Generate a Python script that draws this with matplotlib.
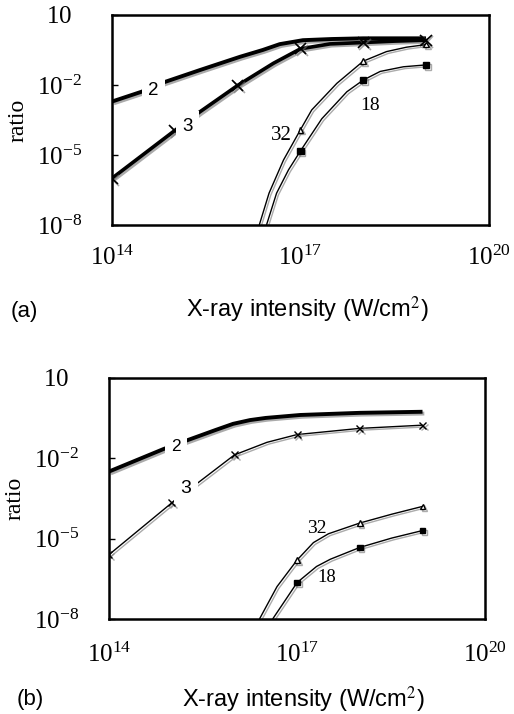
"""
Ionisation ratio versus X-ray intensity, panels (a) and (b)
"""

import numpy as np
import matplotlib
matplotlib.use("Agg")
import matplotlib.pyplot as plt
import matplotlib.patheffects as pe

plt.rcParams["mathtext.fontset"] = "stix"

SERIF = "Liberation Serif"
SANS = "Liberation Sans"

# values are log10 of intensity (W/cm2) and log10 of ratio
# panel (a)
a2_x = [14, 14.47, 14.82, 15.4, 16.04, 16.4, 16.67, 17.04, 17.5, 18, 19]
a2_y = [-2.71, -2.29, -1.89, -1.36, -0.79, -0.50, -0.25, -0.08, -0.03, 0.0, 0.0]
a3_x = [14, 15, 15.4, 16, 16.3, 16.57, 17, 17.47, 18, 18.5, 19]
a3_y = [-6.0, -3.95, -3.15, -2.02, -1.52, -1.07, -0.45, -0.24, -0.18, -0.12, -0.08]
a32_x = [16.345, 16.5, 16.73, 17, 17.18, 17.58, 18, 18.37, 18.69, 19]
a32_y = [-8.0, -6.64, -5.22, -3.92, -3.07, -1.93, -0.98, -0.57, -0.38, -0.27]
a18_x = [16.46, 16.62, 16.81, 17, 17.34, 17.74, 18, 18.27, 18.64, 19]
a18_y = [-8.0, -6.64, -5.64, -4.83, -3.45, -2.29, -1.79, -1.42, -1.22, -1.14]

# panel (b)
b2_x = [14, 14.87, 15.24, 15.7, 15.98, 16.25, 16.5, 17.05, 18, 19]
b2_y = [-2.5, -1.66, -1.34, -0.95, -0.72, -0.58, -0.50, -0.39, -0.31, -0.27]
b3_x = [14, 15, 16, 16.52, 17, 18, 19]
b3_y = [-5.6, -3.67, -1.88, -1.41, -1.12, -0.89, -0.77]
b32_x = [16.40, 16.68, 17, 17.26, 17.5, 18, 18.51, 19]
b32_y = [-8.0, -6.79, -5.80, -5.15, -4.82, -4.42, -4.09, -3.80]
b18_x = [16.61, 16.84, 17, 17.31, 17.53, 18, 18.51, 19]
b18_y = [-8.0, -7.20, -6.64, -6.04, -5.77, -5.33, -4.98, -4.70]

# curve labels: (text, log x, log y)
a_labels = [("2", 14.66, -2.24), ("3", 15.20, -3.76), ("32", 16.70, -4.17), ("18", 18.11, -2.90)]
b_labels = [("2", 15.07, -1.56), ("3", 15.23, -3.15), ("32", 17.32, -4.61), ("18", 17.48, -6.45)]

x_ticks = [14, 17, 20]
y_ticks = [1, -2, -5, -8]
x_ticklabels = [r"$\mathregular{10^{14}}$", r"$\mathregular{10^{17}}$", r"$\mathregular{10^{20}}$"]
y_ticklabels = [r"$\mathregular{10}$", r"$\mathregular{10^{-2}}$", r"$\mathregular{10^{-5}}$",
                r"$\mathregular{10^{-8}}$"]

shadow = [pe.SimpleLineShadow(offset=(1.3, -1.3), shadow_color="0.45", alpha=0.6), pe.Normal()]


def decades(xs):
    """indices of points sitting on whole decades, they carry markers"""
    xs = np.asarray(xs)
    return list(np.where(np.isclose(xs, np.round(xs)))[0])


def curve(ax, xs, ys, lw, marker=None, ms=5, mfc="k", mew=1.0):
    ax.plot(10.0 ** np.asarray(xs), 10.0 ** np.asarray(ys), color="k", lw=lw,
            marker=marker, markevery=decades(xs) if marker else None, ms=ms,
            mfc=mfc, mec="k", mew=mew, path_effects=shadow, solid_capstyle="butt",
            solid_joinstyle="round", zorder=2)


def frame(ax, xlabel_pad, label_sizes, labels):
    ax.set_xscale("log")
    ax.set_yscale("log")
    ax.set_xlim(1e14, 1e20)
    ax.set_ylim(1e-8, 1e1)
    ax.minorticks_off()
    ax.set_xticks([10.0 ** t for t in x_ticks])
    ax.set_xticklabels(x_ticklabels)
    ax.set_yticks([10.0 ** t for t in y_ticks])
    ax.set_yticklabels(y_ticklabels)
    ax.tick_params(axis="x", length=0, pad=xlabel_pad, labelsize=18)
    ax.tick_params(axis="y", direction="in", length=4, width=1, pad=38, labelsize=18)
    for t in ax.get_yticklabels():
        t.set_horizontalalignment("center")
        t.set_fontfamily(SERIF)
    for t in ax.get_xticklabels():
        t.set_fontfamily(SERIF)
    for s in ax.spines.values():
        s.set_linewidth(1.8)
    ax.set_ylabel("ratio", family=SERIF, fontsize=17, va="center")
    ax.yaxis.set_label_coords(-0.25, 0.5)
    for (txt, lx, ly), size in zip(labels, label_sizes):
        if txt in ("2", "3"):
            ax.text(10 ** lx, 10 ** ly, txt, family=SANS, fontsize=size, ha="center",
                    va="center", zorder=5,
                    bbox=dict(boxstyle="square,pad=0.35", fc="white", ec="none"))
        else:
            ax.text(10 ** lx, 10 ** ly, txt, family=SERIF, fontsize=size, ha="center",
                    va="center", zorder=5)


fig = plt.figure(figsize=(5.14, 7.14), dpi=100)

ax_a = fig.add_axes([0.218, 0.685, 0.733, 0.294])
curve(ax_a, a2_x, a2_y, 2.8)
curve(ax_a, a3_x, a3_y, 2.6, marker="x", ms=8, mew=1.2)
curve(ax_a, a32_x, a32_y, 1.0, marker="^", ms=4, mfc="white")
curve(ax_a, a18_x, a18_y, 1.0, marker="s", ms=4.5)
frame(ax_a, 15, [13.5, 13.5, 15, 14], a_labels)

ax_b = fig.add_axes([0.212, 0.133, 0.732, 0.338])
curve(ax_b, b2_x, b2_y, 2.8)
curve(ax_b, b3_x, b3_y, 1.0, marker="x", ms=5, mew=1.0)
curve(ax_b, b32_x, b32_y, 1.0, marker="^", ms=4, mfc="white")
curve(ax_b, b18_x, b18_y, 1.0, marker="s", ms=4)
frame(ax_b, 17, [12.5, 14, 14, 13.5], b_labels)

fig.text(24 / 514, 1 - 311 / 714, "(a)", family=SANS, fontsize=16, ha="center", va="center")
fig.text(307 / 514, 1 - 310 / 714, "X-ray intensity (W/cm$^2$)", family=SANS, fontsize=17,
         ha="center", va="center")
fig.text(30 / 514, 1 - 700 / 714, "(b)", family=SANS, fontsize=16, ha="center", va="center")
fig.text(303 / 514, 1 - 700 / 714, "X-ray intensity (W/cm$^2$)", family=SANS, fontsize=17,
         ha="center", va="center")

fig.savefig("out.png", dpi=100)
